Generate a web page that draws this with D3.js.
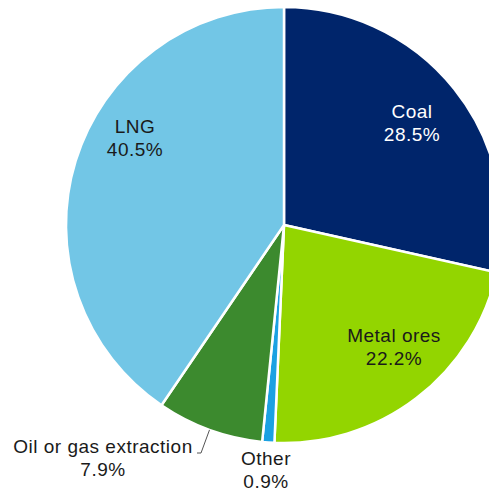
<!DOCTYPE html>
<html>
<head>
<meta charset="utf-8">
<script src="https://cdn.jsdelivr.net/npm/d3@7"></script>
<style>
  html, body { margin: 0; padding: 0; background: #fff; overflow: hidden; }
  svg { display: block; }
  text { font-family: "Liberation Sans", Arial, sans-serif; font-size: 19px; letter-spacing: 0.5px; }
</style>
</head>
<body>
<div id="chart"></div>
<script>
// data, clockwise from 12 o'clock
const categories = ["Coal", "Metal ores", "Other", "Oil or gas extraction", "LNG"];
const shares = [28.5, 22.2, 0.9, 7.9, 40.5];
const colors = ["#00256b", "#93d500", "#1ba1e2", "#3c8a2e", "#72c6e6"];

// label placement (centre x, first baseline), Excel style manual labels
const labelPos = [
    [412, 118],
    [394, 342],
    [266, 465],
    [103, 453],
    [135, 133]
];
const labelFill = ["#fff", "#1a1a1a", "#1a1a1a", "#1a1a1a", "#1a1a1a"];

const width = 489;
const height = 492;
const cx = 284;
const cy = 225;
const radius = 218;

const svg = d3.select("#chart")
    .append("svg")
    .attr("width", width)
    .attr("height", height);

const g = svg.append("g")
    .attr("transform", `translate(${cx}, ${cy})`);

const rows = categories.map((c, i) => ({ label: c, value: shares[i], i }));

const pie = d3.pie().sort(null).value(d => d.value);
const arc = d3.arc().innerRadius(0).outerRadius(radius);
const arcs = pie(rows);

g.selectAll("path")
    .data(arcs)
    .enter()
    .append("path")
    .attr("d", arc)
    .attr("fill", d => colors[d.data.i])
    .attr("stroke", "#fff")
    .attr("stroke-width", 2.5)
    .attr("stroke-linejoin", "round");

// leader line for the oil / gas slice
const oil = arcs[3];
const mid = (oil.startAngle + oil.endAngle) / 2;
const edge = [cx + radius * Math.sin(mid), cy - radius * Math.cos(mid)];
svg.append("polyline")
    .attr("points", `${edge[0]},${edge[1]} ${201},${453} ${197},${453}`)
    .attr("fill", "none")
    .attr("stroke", "#555")
    .attr("stroke-width", 1);

// labels
const labels = svg.selectAll("text.lbl")
    .data(arcs)
    .enter()
    .append("text")
    .attr("class", "lbl")
    .attr("text-anchor", "middle")
    .attr("fill", d => labelFill[d.data.i]);

labels.append("tspan")
    .attr("x", d => labelPos[d.data.i][0])
    .attr("y", d => labelPos[d.data.i][1])
    .text(d => d.data.label);

labels.append("tspan")
    .attr("x", d => labelPos[d.data.i][0])
    .attr("y", d => labelPos[d.data.i][1] + 23)
    .text(d => d.data.value.toFixed(1) + "%");
</script>
</body>
</html>
